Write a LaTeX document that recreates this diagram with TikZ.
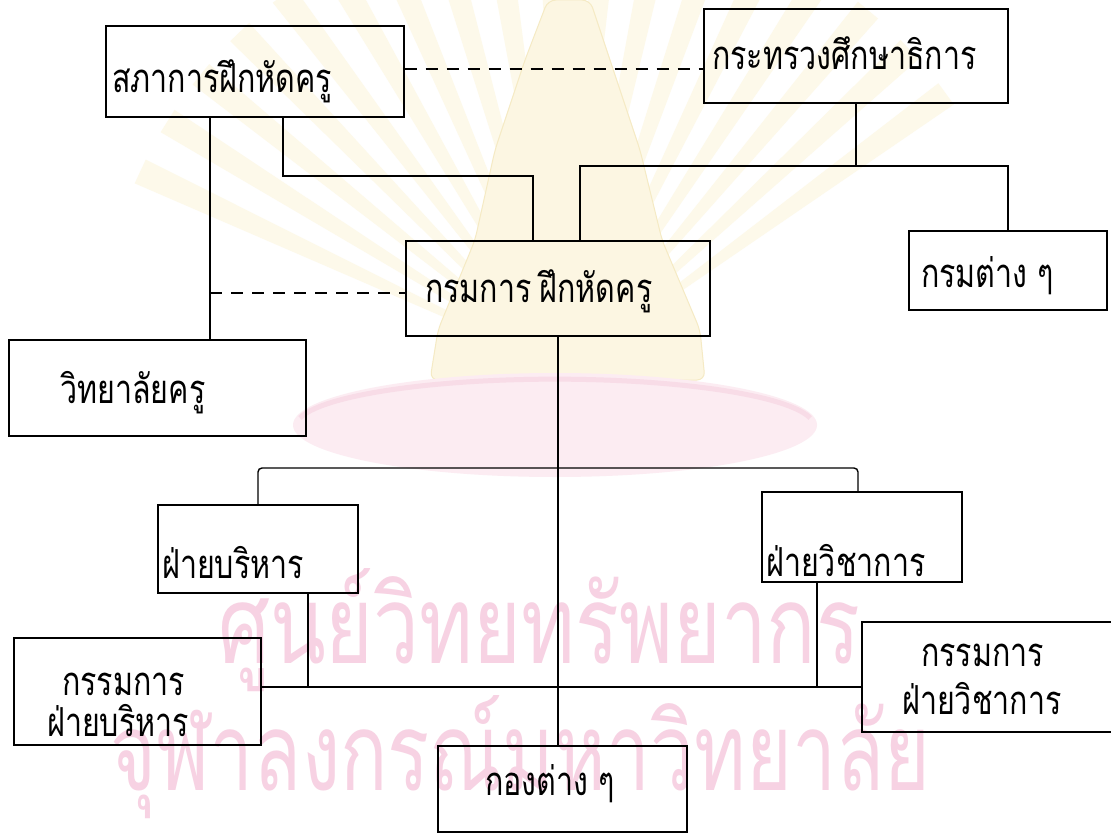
\documentclass[tikz,border=0pt]{standalone}
\usepackage{fontspec}
\usepackage{graphicx}
\newfontfamily\thai[Script=Thai,FakeStretch=0.76]{Loma}
\newfontfamily\thaiwm[Script=Thai]{Loma}
\usetikzlibrary{fit}
\definecolor{wmpink}{RGB}{247,210,227}
\definecolor{wmray}{RGB}{253,249,234}
\definecolor{wmyellow}{RGB}{252,246,226}
\definecolor{wmyedge}{RGB}{245,234,196}
\definecolor{wmcush}{RGB}{252,236,242}
\definecolor{wmcushd}{RGB}{248,220,231}
\begin{document}
\begin{tikzpicture}[x=1pt,y=-1pt,
  box/.style={draw, line width=1.25pt, inner sep=0pt},
  lbl/.style={inner sep=0pt, anchor=base west, font=\thai\fontsize{40}{46}\selectfont},
  conn/.style={line width=1.4pt},
  dashconn/.style={line width=1.4pt, dash pattern=on 12pt off 9pt},
  wm/.style={inner sep=0pt, anchor=base west, text=wmpink, font=\thaiwm\fontsize{60}{70}\selectfont}
]
\useasboundingbox (0,0) rectangle (1111,837);
\fill[white] (0,0) rectangle (1111,837);

% --- faint watermark emblem ---
\foreach \a in {205,212,...,326} {
  \fill[wmray, shift={(566,370)}] (0,0) -- (\a-1.6:470) -- (\a+1.6:470) -- cycle;
}
\fill[wmyellow, draw=wmyedge, line width=1pt, rounded corners=8pt]
  (548,0) -- (590,0) -- (610,60) -- (640,150) -- (662,240) -- (700,330) -- (705,380)
  -- (430,380) -- (438,330) -- (475,240) -- (495,150) -- (525,60) -- cycle;
\fill[wmcush] (555,425) ellipse [x radius=262, y radius=52];
\draw[wmcushd, line width=5pt] (300,418) arc [start angle=190, end angle=350, x radius=259, y radius=47];

\node[wm] (wm1) at (218,663) {\resizebox{642pt}{95pt}{ศูนย์วิทยทรัพยากร}};
\node[wm] (wm2) at (110,790) {\resizebox{820pt}{95pt}{จุฬาลงกรณ์มหาวิทยาลัย}};

% --- boxes ---
\node[box, fit={(106,26) (404,117)}] (sapha) {};
\node[box, fit={(704,9) (1008,103)}] (ministry) {};
\node[box, fit={(406,241) (710,336)}] (dept) {};
\node[box, fit={(909,231) (1107,310)}] (otherdepts) {};
\node[box, fit={(9,340) (306,436)}] (college) {};
\node[box, fit={(158,505) (358,593)}] (admin) {};
\node[box, fit={(762,492) (962,582)}] (acad) {};
\node[box, fit={(14,638) (261,745)}] (admincomm) {};
\node[box, fit={(862,622) (1125,732)}] (acadcomm) {};
\node[box, fit={(438,746) (687,832)}] (divisions) {};

% --- labels ---
\node[lbl] (sapha-t) at (112,93) {สภาการฝึกหัดครู};
\node[lbl] (ministry-t) at (712,70) {กระทรวงศึกษาธิการ};
\node[lbl] (dept-t) at (425,302) {กรมการ\hspace{8pt}ฝึกหัดครู};
\node[lbl] (other-t) at (921,287) {กรมต่าง ๆ};
\node[lbl] (college-t) at (60,403) {วิทยาลัยครู};
\node[lbl] (admin-t) at (162,578) {ฝ่ายบริหาร};
\node[lbl] (acad-t) at (766,576) {ฝ่ายวิชาการ};
\node[lbl] (admc-t1) at (62,695) {กรรมการ};
\node[lbl] (admc-t2) at (47,736) {ฝ่ายบริหาร};
\node[lbl] (acc-t1) at (921,666) {กรรมการ};
\node[lbl] (acc-t2) at (902,714) {ฝ่ายวิชาการ};
\node[lbl] (div-t) at (485,795) {กองต่าง ๆ};

% --- connectors ---
\draw[dashconn] (sapha.east |- 0,69) -- (ministry.west |- 0,69);
\draw[conn] (sapha.south -| 210,0) -- (college.north -| 210,0);
\draw[dashconn] (210,293) -- (dept.west |- 0,293);
\draw[conn] (sapha.south -| 283,0) -- (283,176) -- (533,176) -- (dept.north -| 533,0);
\draw[conn] (ministry.south) -- (ministry.south |- 0,166);
\draw[conn] (dept.north -| 580,0) -- (580,166) -- (otherdepts.north |- 0,166) -- (otherdepts.north);
\draw[conn] (dept.south) -- (divisions.north -| dept.south);
\draw[conn, rounded corners=4pt] (admin.north) -- (admin.north |- 0,468) -- (858,468) -- (acad.north -| 858,0);
\draw[conn] (admin.south -| 308,0) -- (308,687);
\draw[conn] (acad.south -| 817,0) -- (817,687);
\draw[conn] (admincomm.east |- 0,687) -- (acadcomm.west |- 0,687);
\end{tikzpicture}
\end{document}
